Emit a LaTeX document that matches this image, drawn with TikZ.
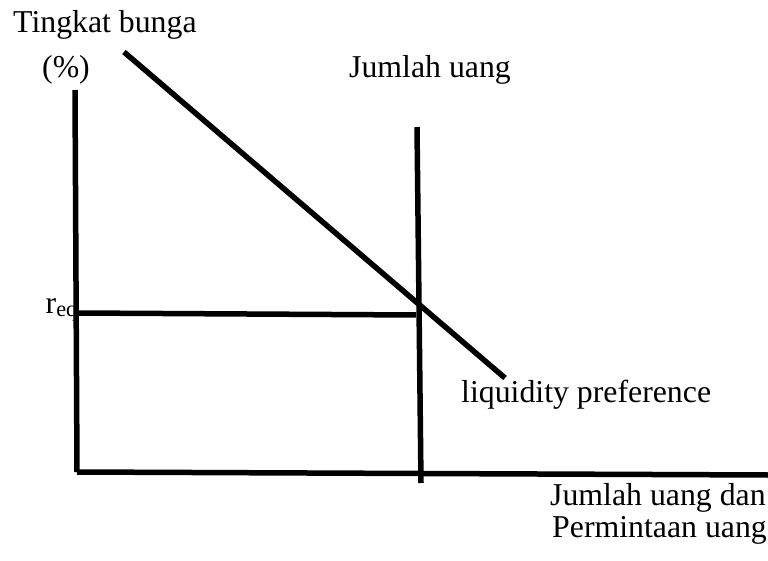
\documentclass[tikz,border=0pt]{standalone}
\usepackage{fontspec}
\setmainfont{Liberation Serif}
\usetikzlibrary{positioning}

\tikzset{garis/.style={line width=5.5pt},
  teks/.style={font=\fontsize{31.8}{38}\selectfont,inner sep=0pt}}

\begin{document}
\begin{tikzpicture}[x=1pt,y=-1pt]
\useasboundingbox (0,0) rectangle (768,561);
% titik-titik
\coordinate (ytop) at (75,90);\coordinate (org) at (77,472);\coordinate (xend) at (768,475);
\coordinate (mtop) at (417,127);\coordinate (mbot) at (421,483);
\coordinate (rl) at (78,313);\coordinate (eq) at (416,315);
\coordinate (lptop) at (124,52);\coordinate (lpbot) at (505,378);
% sumbu dan kurva
\draw[garis] (ytop)--(org);\draw[garis] (org)--(xend);
\draw[garis] (mtop)--(mbot);\draw[garis] (rl)--(eq);\draw[garis] (lptop)--(lpbot);
% label
\node[teks,anchor=base west] (tb) at (13,33){Tingkat bunga};
\node[teks,anchor=base] (pct) at (66,78){(\%)};
\node[teks,anchor=base] (ju) at (430,78){Jumlah uang};
\node[teks,anchor=base east] (req) at (78,313){r\textsubscript{eq}};
\node[teks,anchor=base west] (lp) at (461,402){liquidity preference};
\node[teks,anchor=base west] (jd) at (550,505){Jumlah uang dan};
\node[teks,anchor=base west] (pu) at (552,537){Permintaan uang};
\end{tikzpicture}
\end{document}
